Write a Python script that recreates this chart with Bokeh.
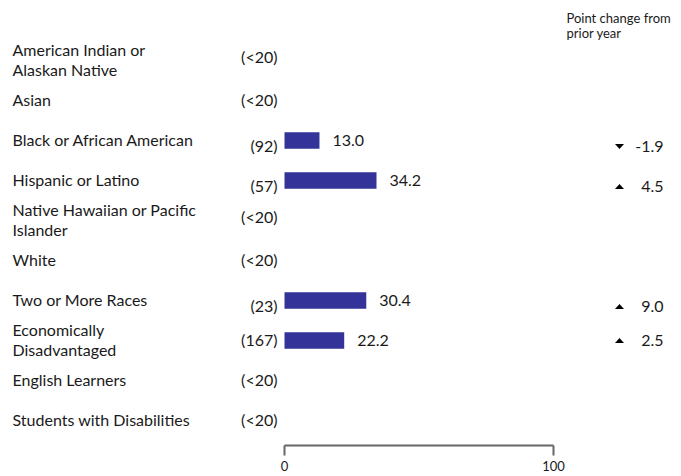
from bokeh.plotting import figure
from bokeh.models import ColumnDataSource, Range1d, LinearAxis, FixedTicker
from bokeh.core.properties import value
from bokeh.embed import file_html
from bokeh.resources import INLINE

groups = ["American Indian or\nAlaskan Native", "Asian", "Black or African American",
          "Hispanic or Latino", "Native Hawaiian or Pacific\nIslander", "White",
          "Two or More Races", "Economically\nDisadvantaged", "English Learners",
          "Students with Disabilities"]
counts = ["(<20)", "(<20)", "(92)", "(57)", "(<20)", "(<20)", "(23)", "(167)", "(<20)", "(<20)"]
values = [None, None, 13.0, 34.2, None, None, 30.4, 22.2, None, None]
changes = [None, None, -1.9, 4.5, None, None, 9.0, 2.5, None, None]
ticks = [0, 100]
header = ["Point change from", "prior year"]

FONT = value("Lato")
TXT = "#1a1a1a"
BAR = "#333399"

W, H = 681, 476
X0, X100 = 284, 553          # pixel positions of 0 and 100
SX = (X100 - X0) / 100.0     # px per unit
ROW0, ROWH = 59, 40          # first row centre, row pitch (px)
AXY = 445                    # axis line pixel y

rows = list(range(len(groups)))
multi = ["\n" in g for g in groups]
has_bar = [v is not None for v in values]

def count_off(i):
    if has_bar[i] and not multi[i]:
        return 6
    if has_bar[i] and multi[i]:
        return 0
    if multi[i]:
        return -3
    return 0

p = figure(width=W, height=H, output_backend="svg", toolbar_location=None,
           x_range=Range1d(-X0 / SX, (W - X0) / SX),
           y_range=Range1d((AXY - ROW0) / ROWH, -ROW0 / ROWH),
           min_border_left=0, min_border_right=0, min_border_top=0,
           min_border_bottom=H - AXY,
           x_axis_location=None, y_axis_location=None)
p.outline_line_color = None
p.grid.visible = False
p.background_fill_color = "white"
p.border_fill_color = "white"

# group names
p.text(x=[0] * len(groups), y=rows, text=groups, x_offset=12 - X0, text_align="left",
       text_baseline="middle", text_font=FONT, text_font_size="16px", text_color=TXT,
       text_line_height=1.1)

# counts
for i in rows:
    p.text(x=[0], y=[i], text=[counts[i]], x_offset=-7, y_offset=count_off(i),
           text_align="right", text_baseline="middle", text_font=FONT,
           text_font_size="16px", text_color=TXT)

# bars
bi = [i for i in rows if has_bar[i]]
bsrc = ColumnDataSource(dict(y=[i + 0.025 for i in bi], right=[values[i] for i in bi],
                             lab=["%.1f" % values[i] for i in bi]))
p.hbar(y="y", left=0, right="right", height=0.41, source=bsrc, fill_color=BAR,
       line_color=None)
p.text(x="right", y="y", text="lab", source=bsrc, x_offset=13, text_align="left",
       text_baseline="middle", text_font=FONT, text_font_size="16px", text_color=TXT)

# changes
tw, th = 9.0, 5.0   # triangle size in px
xs, ys = [], []
for i in bi:
    off = 1 if multi[i] else 7
    cx = 100 + 66 / SX
    cy = i + off / ROWH
    hx = tw / 2 / SX
    hy = th / 2 / ROWH
    if changes[i] >= 0:   # up triangle (y axis reversed: smaller y is up)
        xs.append([cx - hx, cx + hx, cx])
        ys.append([cy + hy, cy + hy, cy - hy])
    else:
        xs.append([cx - hx, cx + hx, cx])
        ys.append([cy - hy, cy - hy, cy + hy])
    p.text(x=[100], y=[i], text=["%.1f" % changes[i]], x_offset=110, y_offset=off,
           text_align="right", text_baseline="middle", text_font=FONT,
           text_font_size="16px", text_color=TXT)
p.patches(xs=xs, ys=ys, fill_color="black", line_color=None)

# header
p.text(x=[100], y=[-1], text=[header[0]], x_offset=13, y_offset=-2, text_align="left",
       text_baseline="middle", text_font=FONT, text_font_size="13px", text_color=TXT)
p.text(x=[100], y=[-1], text=[header[1]], x_offset=13, y_offset=13, text_align="left",
       text_baseline="middle", text_font=FONT, text_font_size="13px", text_color=TXT)

ax = LinearAxis(ticker=FixedTicker(ticks=ticks), bounds=(0, 100))
ax.axis_line_color = "#666666"
ax.axis_line_width = 2
ax.major_tick_line_color = "#666666"
ax.major_tick_line_width = 2
ax.major_tick_out = 10
ax.major_tick_in = 0
ax.minor_tick_out = 0
ax.minor_tick_in = 0
ax.major_label_standoff = 5
ax.major_label_text_font = "Lato"
ax.major_label_text_font_size = "13px"
ax.major_label_text_color = TXT
p.add_layout(ax, "below")

open("out.html", "w").write(file_html(p, INLINE))
